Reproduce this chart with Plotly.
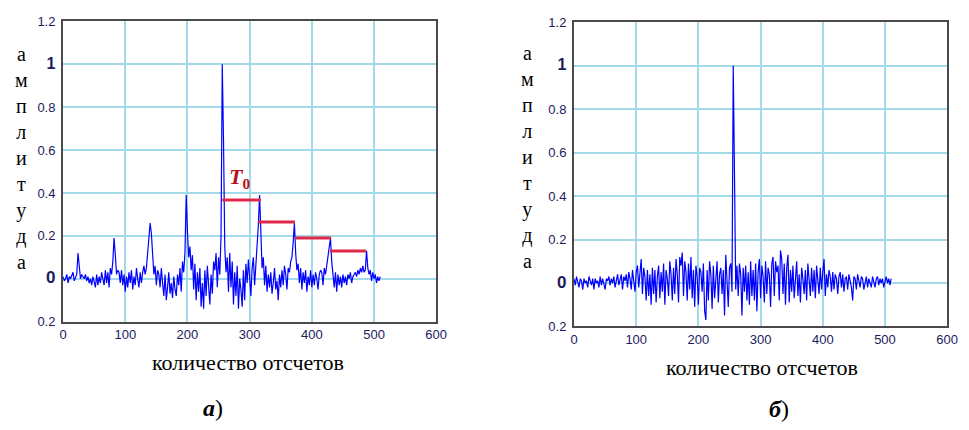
import plotly.graph_objects as go

# ---------------- data ----------------
# sample step (every 2nd sample, 0..510)
STEP = 2

# left chart (a): correlation-like signal
sig_a = [
    0.01, -0.01, 0.00, 0.02, -0.02, 0.01, 0.00, 0.02, 0.03, -0.01, 0.01, 0.02, 0.12, 0.05, 0.00, 0.02,
    0.01, 0.00, 0.02, -0.01, 0.01, -0.02, 0.00, -0.03, 0.01, -0.02, -0.04, 0.02, -0.03, 0.01, -0.02, 0.03,
    0.00, -0.03, 0.04, -0.02, 0.03, -0.04, 0.05, 0.02, 0.08, 0.19, 0.11, 0.02, 0.04, 0.03, -0.02, 0.04,
    -0.03, 0.02, -0.06, 0.01, -0.04, 0.03, -0.02, 0.04, -0.05, 0.01, -0.03, 0.05, 0.00, -0.04, 0.03, -0.02,
    0.03, 0.06, 0.02, 0.05, 0.12, 0.20, 0.26, 0.21, 0.10, 0.02, 0.06, -0.03, 0.04, 0.02, -0.04, 0.05,
    -0.02, -0.08, 0.02, -0.10, -0.04, 0.03, -0.07, -0.02, -0.09, 0.01, -0.05, -0.08, 0.02, -0.03, 0.05, -0.06,
    0.08, 0.03, 0.12, 0.39, 0.22, 0.10, 0.15, 0.04, 0.11, -0.05, 0.07, -0.10, 0.03, -0.06, 0.05, -0.13,
    -0.02, -0.14, 0.04, -0.08, 0.06, -0.03, -0.12, 0.02, -0.07, 0.08, 0.04, 0.12, -0.04, 0.10, 0.02, 0.20,
    1.00, 0.64, 0.15, 0.03, 0.10, -0.06, 0.12, -0.04, 0.08, -0.12, 0.03, -0.08, 0.06, -0.14, 0.00, -0.05,
    -0.13, 0.04, -0.10, 0.07, -0.02, 0.09, 0.02, -0.08, 0.05, 0.10, -0.03, 0.06, 0.12, 0.25, 0.39, 0.18,
    0.05, 0.10, -0.03, 0.06, -0.06, 0.02, -0.04, 0.03, -0.07, -0.02, 0.05, -0.05, -0.01, -0.10, 0.02, -0.04,
    0.04, -0.03, 0.06, 0.02, -0.05, 0.05, 0.03, 0.08, 0.10, 0.17, 0.26, 0.12, 0.04, 0.07, -0.02, 0.05,
    -0.05, 0.03, -0.02, 0.04, -0.06, 0.01, -0.03, 0.04, -0.04, 0.02, -0.03, 0.03, 0.00, -0.05, 0.02, 0.04,
    0.03, -0.03, 0.05, 0.02, 0.06, 0.11, 0.15, 0.19, 0.08, 0.03, -0.04, 0.03, -0.06, 0.02, -0.03, 0.01,
    -0.04, 0.02, -0.02, 0.01, -0.03, 0.02, 0.00, 0.03, -0.02, 0.01, 0.02, 0.03, 0.01, 0.04, 0.02, 0.05,
    0.03, 0.06, 0.03, 0.04, 0.13, 0.05, 0.02, 0.04, -0.01, 0.03, 0.00, 0.02, -0.02, 0.01, -0.01, 0.01,
]

# right chart (б): noise with single peak
sig_b = [
    0.02, -0.01, 0.03, 0.00, -0.02, 0.02, 0.01, -0.03, 0.02, 0.00, 0.01, -0.02, 0.03, 0.01, -0.01, 0.02,
    -0.03, 0.02, 0.00, 0.01, -0.02, 0.03, -0.01, 0.02, 0.00, -0.03, 0.02, 0.01, 0.03, -0.01, 0.02, 0.00,
    0.03, -0.02, 0.01, 0.04, -0.01, 0.02, 0.04, -0.03, 0.03, 0.01, 0.04, -0.02, 0.05, 0.02, -0.03, 0.06,
    0.02, -0.04, 0.05, 0.08, -0.02, 0.06, 0.11, -0.05, 0.07, 0.03, -0.08, 0.06, -0.06, 0.04, -0.10, 0.07,
    -0.05, 0.06, -0.09, 0.03, 0.08, -0.07, 0.05, -0.04, 0.09, -0.10, 0.06, 0.02, -0.06, 0.10, 0.04, -0.08,
    0.07, -0.05, 0.11, 0.04, -0.09, 0.12, 0.08, 0.14, -0.06, 0.10, 0.05, -0.08, 0.09, -0.03, 0.12, -0.07,
    0.06, -0.11, 0.08, 0.03, -0.10, 0.07, 0.05, -0.04, 0.09, -0.13, -0.17, 0.06, -0.08, 0.10, 0.04, -0.12,
    0.08, -0.07, 0.05, 0.10, -0.09, 0.04, 0.07, -0.05, 0.06, -0.15, 0.13, 0.02, -0.11, 0.07, 0.09, -0.04,
    1.00, 0.50, -0.03, 0.08, -0.06, 0.09, 0.04, -0.15, 0.07, -0.04, 0.08, -0.08, 0.05, -0.10, 0.10, -0.06,
    0.06, -0.08, 0.09, -0.13, 0.05, 0.11, -0.07, 0.08, 0.03, -0.09, 0.10, -0.05, 0.07, 0.04, -0.11, 0.09,
    0.12, -0.06, 0.10, 0.05, 0.08, -0.08, 0.15, 0.11, -0.05, 0.09, -0.10, 0.07, 0.13, -0.09, 0.06, -0.04,
    0.08, -0.07, 0.05, 0.10, -0.06, 0.04, -0.09, 0.07, 0.02, -0.05, 0.06, -0.08, 0.09, 0.03, -0.06, 0.07,
    -0.04, 0.06, -0.07, 0.08, 0.03, -0.05, 0.07, -0.03, 0.05, 0.11, -0.06, 0.04, -0.02, 0.06, 0.03, -0.04,
    0.05, -0.03, 0.04, 0.02, -0.05, 0.03, 0.05, -0.02, 0.04, -0.04, 0.02, 0.03, -0.03, 0.04, 0.01, -0.02,
    -0.08, 0.03, 0.02, -0.03, 0.04, 0.00, -0.02, 0.03, 0.02, -0.03, 0.01, 0.03, -0.02, 0.02, 0.00, -0.02,
    0.03, 0.01, -0.02, 0.02, 0.03, -0.01, 0.02, 0.00, 0.02, -0.02, 0.01, 0.03, 0.00, 0.02, -0.01, 0.02,
]

# red period steps in chart (a)
step_x0 = [256, 314, 373, 429]
step_x1 = [318, 373, 431, 487]
step_y = [0.367, 0.265, 0.19, 0.13]

x_ticks = [0, 100, 200, 300, 400, 500, 600]
x_ticktext = ["0", "100", "200", "300", "400", "500", "600"]
y_ticks = [-0.2, 0, 0.2, 0.4, 0.6, 0.8, 1.0, 1.2]
y_ticktext = ["0.2", "<span style='font-size:17px'><b>0</b></span>", "0.2", "0.4", "0.6", "0.8",
              "<span style='font-size:16px'><b>1</b></span>", "1.2"]

y_letters = ["а", "м", "п", "л", "и", "т", "у", "д", "а"]
x_title = "количество отсчетов"

# ---------------- figure ----------------
W, H = 969, 430
xs_a = list(range(0, STEP * len(sig_a), STEP))
xs_b = list(range(0, STEP * len(sig_b), STEP))

fig = go.Figure()
BLUE = "#0000ff"
fig.add_trace(go.Scatter(x=xs_a, y=sig_a, mode="lines", line=dict(color=BLUE, width=1.2),
                         xaxis="x", yaxis="y", showlegend=False, hoverinfo="skip"))

rx, ry = [], []
for a, b, v in zip(step_x0, step_x1, step_y):
    rx += [a, b, None]
    ry += [v, v, None]
fig.add_trace(go.Scatter(x=rx, y=ry, mode="lines", line=dict(color="#e0284a", width=3),
                         xaxis="x", yaxis="y", showlegend=False, hoverinfo="skip"))

fig.add_trace(go.Scatter(x=xs_b, y=sig_b, mode="lines", line=dict(color=BLUE, width=1.2),
                         xaxis="x2", yaxis="y2", showlegend=False, hoverinfo="skip"))

tick_font = dict(family="Liberation Sans Narrow, Arial Narrow, Liberation Sans, Arial", size=13, color="#221a5e")
grid = "#a2daea"
axis_common = dict(showgrid=True, gridcolor=grid, gridwidth=1.6, zeroline=False,
                   showline=True, linecolor="#4a4a4a", linewidth=2, mirror=True,
                   ticks="", tickfont=tick_font, fixedrange=True)

def px_x(p):
    return p / W

def px_y(p):
    return 1 - p / H

fig.update_layout(
    width=W, height=H, margin=dict(l=0, r=0, t=0, b=0),
    paper_bgcolor="white", plot_bgcolor="white",
    xaxis=dict(domain=[px_x(60), px_x(439)], range=[0, 600], anchor="y",
               tickvals=x_ticks, ticktext=x_ticktext, **axis_common),
    yaxis=dict(domain=[px_y(326), px_y(15)], range=[-0.2, 1.2], anchor="x",
               tickvals=y_ticks, ticktext=y_ticktext, ticklabelstandoff=3, **axis_common),
    xaxis2=dict(domain=[px_x(579), px_x(958)], range=[0, 600], anchor="y2",
                tickvals=x_ticks, ticktext=x_ticktext, **axis_common),
    yaxis2=dict(domain=[px_y(331), px_y(16)], range=[-0.2, 1.2], anchor="x2",
                tickvals=y_ticks, ticktext=y_ticktext, ticklabelstandoff=3, **axis_common),
)

serif = "Liberation Serif, Times New Roman, serif"
ann = []
# vertical letter labels
for cx, cy in [(18, 156), (532, 155)]:
    ann.append(dict(text="<br>".join(y_letters), x=px_x(cx), y=px_y(cy), xref="paper", yref="paper",
                    showarrow=False, xanchor="center", yanchor="middle",
                    font=dict(family=serif, size=20, color="black")))
# x titles
for cx, cy in [(248, 368), (770, 374)]:
    ann.append(dict(text=x_title, x=px_x(cx), y=px_y(cy), xref="paper", yref="paper",
                    showarrow=False, xanchor="center", yanchor="middle",
                    font=dict(family=serif, size=22, color="black")))
# panel labels
for txt, cx, cy in [("<b><i>а</i></b>)", 212, 416), ("<b><i>б</i></b>)", 787, 417)]:
    ann.append(dict(text=txt, x=px_x(cx), y=px_y(cy), xref="paper", yref="paper",
                    showarrow=False, xanchor="center", yanchor="middle",
                    font=dict(family=serif, size=24, color="black")))
# T0 label
ann.append(dict(text="<b><i>T</i></b><sub><b>0</b></sub>", x=283, y=0.47, xref="x", yref="y",
                showarrow=False, xanchor="center", yanchor="middle",
                font=dict(family=serif, size=22, color="#b5121b")))
fig.update_layout(annotations=ann)

fig.write_html("out.html")
